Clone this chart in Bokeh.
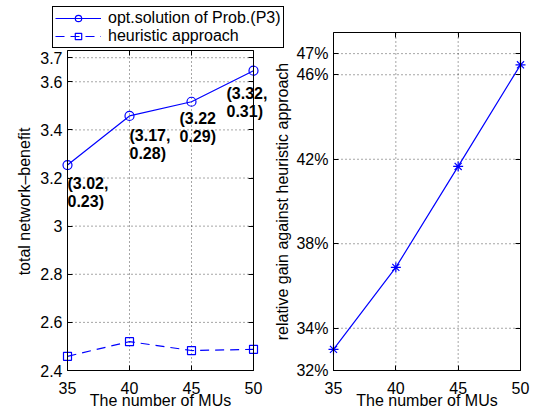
import math
from bokeh.plotting import figure
from bokeh.models import (FixedTicker, Legend, LegendItem, ColumnDataSource,
                          Range1d, LabelSet, LinearAxis, BoxAnnotation, Label)
from bokeh.layouts import row
from bokeh.embed import file_html
from bokeh.resources import INLINE
from bokeh.core.properties import value

# ---------------- data ----------------
num_mus = [35, 40, 45, 50]
opt_benefit = [3.254, 3.458, 3.517, 3.646]
heur_benefit = [2.459, 2.520, 2.483, 2.488]
opt_labels = ["(3.02,\n0.23)", "(3.17,\n0.28)", "(3.22\n0.29)", "(3.32,\n0.31)"]
relative_gain = [33.0, 36.88, 41.66, 46.47]

x_ticks = [35, 40, 45, 50]
left_yticks = [2.4, 2.6, 2.8, 3.0, 3.2, 3.4, 3.6, 3.7]
left_ytick_labels = ["2.4", "2.6", "2.8", "3", "3.2", "3.4", "3.6", "3.7"]
right_yticks = [32, 34, 38, 42, 46, 47]
right_ytick_labels = ["32%", "34%", "38%", "42%", "46%", "47%"]

left_xlim, left_ylim = (35, 50), (2.4, 3.73)
right_xlim, right_ylim = (35, 50), (32, 48)

# ---------------- layout (pixels) ----------------
H = 413
L_W, L_FRAME = 290, (67, 253, 50, 370)      # left, right, top, bottom
R_W, R_FRAME = 260, (63, 250, 32, 370)
L_YLABEL_POS = (24, 201)                      # centre of rotated y label
R_YLABEL_POS = (12, 201)
label_dx = [0, 0, -12, -27]                   # label offsets (x right, y up)
label_dy = [-10, -11, -8, -14]

FONT = "Liberation Sans"
BLUE = "#0000ff"


def full_ranges(width, frame, xlim, ylim):
    l, r, t, b = frame
    sx = (xlim[1] - xlim[0]) / (r - l)
    sy = (ylim[1] - ylim[0]) / (b - t)
    xr = Range1d(xlim[0] - l * sx, xlim[1] + (width - r) * sx)
    yr = Range1d(ylim[0] - (H - b) * sy, ylim[1] + t * sy)
    return xr, yr


def style_axis(ax):
    ax.major_tick_in = 5
    ax.major_tick_out = 0
    ax.minor_tick_line_color = None
    ax.axis_line_color = None
    ax.major_tick_line_color = "black"
    ax.major_label_text_font = FONT
    ax.major_label_text_font_size = "16px"
    ax.major_label_text_color = "black"
    ax.axis_label_text_font = FONT
    ax.axis_label_text_font_size = "16px"
    ax.axis_label_text_font_style = "normal"
    ax.axis_label_text_color = "black"


def make_panel(width, frame, xlim, ylim, yticks, ylabels, ylabel, ylabel_pos, **kw):
    xr, yr = full_ranges(width, frame, xlim, ylim)
    p = figure(width=width, height=H, x_range=xr, y_range=yr, min_border=0,
               x_axis_location=None, y_axis_location=None,
               output_backend="svg", toolbar_location=None, **kw)
    p.title = None
    p.outline_line_color = None
    p.grid.visible = False

    # dotted grid
    ny, nx = len(yticks), len(x_ticks)
    p.segment(x0=[xlim[0]] * ny, y0=yticks, x1=[xlim[1]] * ny, y1=yticks,
              line_color="black", line_alpha=0.7, line_dash="1 3", line_width=1)
    p.segment(x0=x_ticks, y0=[ylim[0]] * nx, x1=x_ticks, y1=[ylim[1]] * nx,
              line_color="black", line_alpha=0.7, line_dash="1 3", line_width=1)

    xa = LinearAxis(fixed_location=ylim[0], bounds=xlim,
                    ticker=FixedTicker(ticks=x_ticks),
                    axis_label="The number of MUs")
    style_axis(xa)
    xa.major_label_standoff = 11
    xa.axis_label_standoff = -5
    p.add_layout(xa, "below")

    ya = LinearAxis(fixed_location=xlim[0], bounds=ylim,
                    ticker=FixedTicker(ticks=yticks))
    ya.major_label_overrides = {t: s for t, s in zip(yticks, ylabels)}
    style_axis(ya)
    ya.major_label_standoff = 5
    p.add_layout(ya, "left")

    ta = LinearAxis(fixed_location=ylim[1], bounds=xlim,
                    ticker=FixedTicker(ticks=x_ticks))
    style_axis(ta)
    ta.major_label_overrides = {t: "" for t in x_ticks}
    p.add_layout(ta, "above")

    ra = LinearAxis(fixed_location=xlim[1], bounds=ylim,
                    ticker=FixedTicker(ticks=yticks))
    style_axis(ra)
    ra.major_label_overrides = {t: "" for t in yticks}
    p.add_layout(ra, "right")

    box = BoxAnnotation(left=xlim[0], right=xlim[1], bottom=ylim[0], top=ylim[1],
                        fill_color=None, line_color="black", line_width=1,
                        line_alpha=1)
    p.add_layout(box)

    yl = Label(x=ylabel_pos[0], y=H - ylabel_pos[1], x_units="screen",
               y_units="screen", text=ylabel, angle=math.pi / 2,
               text_align="center", text_baseline="middle",
               text_font=FONT, text_font_size="16px", text_color="black")
    p.add_layout(yl)
    return p


# ---------------- left panel ----------------
p1 = make_panel(L_W, L_FRAME, left_xlim, left_ylim, left_yticks,
                left_ytick_labels, "total network\u2013benefit", L_YLABEL_POS)

l_opt = p1.line(num_mus, opt_benefit, line_color=BLUE, line_width=1.2)
s_opt = p1.scatter(num_mus, opt_benefit, marker="circle", size=9,
                   line_color=BLUE, fill_color=None, line_width=1.2)
l_heu = p1.line(num_mus, heur_benefit, line_color=BLUE, line_width=1.2,
                line_dash="9 6")
s_heu = p1.scatter(num_mus, heur_benefit, marker="square", size=8,
                   line_color=BLUE, fill_color=None, line_width=1.2)

src = ColumnDataSource(data=dict(x=num_mus, y=opt_benefit, text=opt_labels,
                                 dx=label_dx, dy=label_dy))
labels = LabelSet(x="x", y="y", text="text", x_offset="dx", y_offset="dy",
                  source=src, text_font=value(FONT), text_font_size="16px",
                  text_font_style="bold", text_baseline="top",
                  text_align="left", text_line_height=1.05,
                  text_color="black")
p1.add_layout(labels)

legend = Legend(items=[
    LegendItem(label="opt.solution of Prob.(P3)", renderers=[l_opt, s_opt]),
    LegendItem(label="heuristic approach", renderers=[l_heu, s_heu]),
], location=(52, H - 48))
legend.margin = 0
legend.padding = 2
legend.spacing = 0
legend.glyph_width = 46
legend.glyph_height = 16
legend.label_height = 16
legend.label_standoff = 7
legend.label_text_font = FONT
legend.label_text_font_size = "16px"
legend.label_text_color = "black"
legend.border_line_color = "black"
legend.border_line_width = 1
legend.border_line_alpha = 1
legend.background_fill_color = "white"
legend.background_fill_alpha = 1
p1.add_layout(legend)

# ---------------- right panel ----------------
p2 = make_panel(R_W, R_FRAME, right_xlim, right_ylim, right_yticks,
                right_ytick_labels, "relative gain against heuristic approach",
                R_YLABEL_POS, margin=(0, 0, 0, -20))
p2.background_fill_color = None
p2.border_fill_color = None

p2.line(num_mus, relative_gain, line_color=BLUE, line_width=1.2)
p2.scatter(num_mus, relative_gain, marker="asterisk", size=10,
           line_color=BLUE, line_width=1.2)

layout = row(p1, p2)

open("out.html", "w").write(file_html(layout, INLINE))
